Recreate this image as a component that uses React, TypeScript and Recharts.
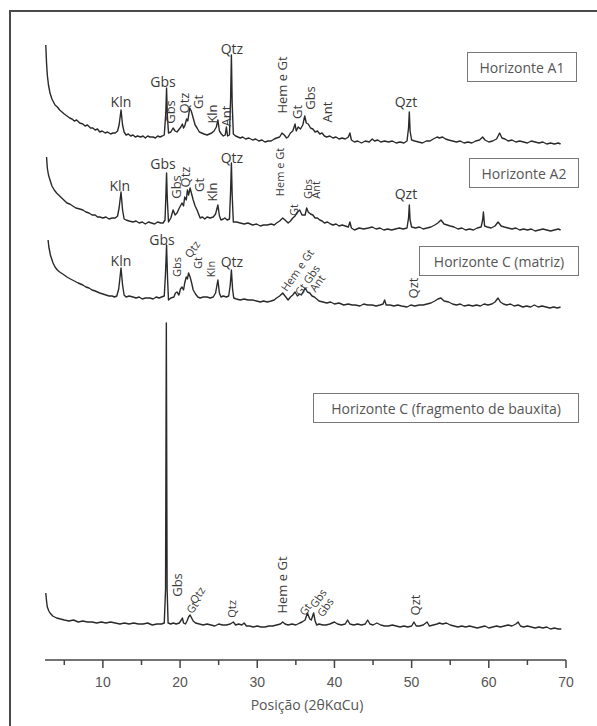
import { LineChart, Line, XAxis, YAxis, ReferenceDot } from 'recharts'

type Pt = [number, number]
// [text, 2theta, height above the trace's baseline, kind]
type Lbl = [string, number, number, string]

const A1: Pt[] = [
  [2.6, 98], [2.7, 80], [2.8, 68], [2.95, 58], [3.15, 50], [3.4, 44], [3.6, 41], [3.8, 38], [4.1, 36], [4.4, 33],
  [4.7, 31], [5.0, 29], [5.35, 27], [5.7, 25], [6.0, 24], [6.3, 22], [6.6, 23], [7.0, 20], [7.4, 19], [7.7, 17],
  [8.0, 18], [8.4, 15], [8.7, 15], [9.0, 13], [9.3, 14], [9.6, 11], [9.9, 12], [10.3, 10], [10.6, 11], [11.0, 9],
  [11.3, 10], [11.6, 10], [11.9, 12], [12.1, 18], [12.35, 33], [12.55, 18], [12.75, 11], [13.0, 8], [13.3, 9], [13.6, 7],
  [13.9, 8], [14.2, 6], [14.5, 7], [14.9, 6], [15.2, 7], [15.5, 5], [15.8, 7], [16.1, 6], [16.5, 6], [16.8, 5],
  [17.1, 7], [17.4, 6], [17.7, 7], [17.95, 8], [18.15, 30], [18.25, 55], [18.35, 28], [18.5, 10], [18.8, 11], [19.1, 15],
  [19.35, 12], [19.6, 11], [19.9, 14], [20.1, 16], [20.3, 19], [20.45, 15], [20.6, 17], [20.85, 24], [21.0, 22], [21.25, 35],
  [21.45, 32], [21.7, 25], [21.95, 18], [22.2, 15], [22.5, 11], [22.8, 10], [23.1, 9], [23.5, 8], [23.8, 9], [24.1, 10],
  [24.4, 12], [24.7, 16], [24.9, 23], [25.1, 12], [25.35, 9], [25.6, 7], [25.85, 8], [26.0, 16], [26.15, 7], [26.4, 8],
  [26.55, 45], [26.65, 88], [26.75, 40], [26.9, 9], [27.2, 7], [27.5, 6], [27.8, 5], [28.1, 6], [28.5, 4], [28.9, 5],
  [29.4, 3], [29.8, 4], [30.2, 2], [30.6, 3], [31.0, 1], [31.4, 2], [31.8, 2], [32.2, 4], [32.5, 5], [32.9, 6],
  [33.2, 10], [33.5, 8], [33.8, 5], [34.0, 6], [34.3, 10], [34.6, 12], [34.9, 19], [35.05, 12], [35.3, 16], [35.6, 14],
  [35.9, 18], [36.15, 27], [36.35, 20], [36.6, 19], [36.9, 15], [37.2, 14], [37.5, 11], [37.8, 12], [38.1, 9], [38.4, 10],
  [38.7, 7], [39.0, 6], [39.4, 7], [39.8, 5], [40.2, 6], [40.6, 4], [41.0, 5], [41.4, 4], [41.8, 6], [42.0, 10],
  [42.2, 3], [42.6, 1], [43.0, 2], [43.5, 0], [44.0, 2], [44.5, 1], [44.9, 4], [45.2, 2], [45.6, 3], [46.0, 1],
  [46.5, 2], [47.0, 1], [47.5, 2], [48.0, 0], [48.5, 1], [49.0, 0], [49.4, 2], [49.6, 15], [49.7, 31], [49.8, 12],
  [50.0, 3], [50.4, 2], [50.9, 1], [51.4, 0], [51.9, 2], [52.4, 2], [52.8, 4], [53.3, 6], [53.6, 5], [54.0, 6],
  [54.4, 4], [54.8, 3], [55.3, 2], [55.8, 1], [56.3, 2], [56.8, 0], [57.3, 1], [57.8, 0], [58.3, 2], [58.8, 3],
  [59.2, 6], [59.5, 3], [60.0, 1], [60.5, 2], [61.0, 4], [61.4, 10], [61.7, 5], [62.1, 4], [62.5, 2], [63.0, 3],
  [63.5, 1], [64.0, 2], [64.5, 1], [65.0, 0], [65.5, 2], [66.0, 1], [66.5, 0], [67.0, 1], [67.5, -1], [68.0, 0],
  [68.5, -1], [69.0, 0], [69.3, -1],
]

const A2: Pt[] = [
  [2.7, 73], [2.8, 62], [2.95, 55], [3.15, 50], [3.4, 44], [3.7, 40], [4.0, 37], [4.4, 34], [4.8, 31], [5.35, 27],
  [5.7, 26], [6.1, 24], [6.5, 22], [7.0, 21], [7.4, 20], [7.8, 18], [8.2, 17], [8.6, 15], [9.0, 15], [9.3, 13],
  [9.6, 13], [10.0, 12], [10.4, 13], [10.8, 11], [11.2, 12], [11.6, 12], [11.9, 14], [12.1, 22], [12.35, 38], [12.55, 20],
  [12.75, 11], [13.0, 10], [13.4, 9], [13.9, 8], [14.3, 9], [14.7, 7], [15.1, 8], [15.5, 6], [15.9, 8], [16.3, 7],
  [16.7, 6], [17.1, 8], [17.5, 7], [17.8, 7], [18.05, 10], [18.15, 32], [18.25, 57], [18.35, 30], [18.5, 8], [18.8, 12],
  [19.1, 20], [19.35, 15], [19.6, 17], [19.9, 22], [20.25, 27], [20.45, 24], [20.6, 33], [20.8, 30], [20.95, 40], [21.1, 35],
  [21.3, 42], [21.5, 36], [21.7, 30], [21.95, 24], [22.2, 20], [22.6, 12], [22.9, 13], [23.2, 11], [23.5, 13], [23.9, 12],
  [24.3, 13], [24.6, 16], [24.9, 25], [25.1, 14], [25.3, 10], [25.6, 11], [25.8, 12], [26.1, 10], [26.4, 11], [26.55, 40],
  [26.65, 67], [26.75, 35], [26.9, 8], [27.3, 8], [27.8, 7], [28.3, 6], [28.8, 7], [29.4, 5], [29.9, 6], [30.4, 4],
  [30.8, 5], [31.3, 5], [31.8, 6], [32.2, 5], [32.5, 7], [32.9, 9], [33.3, 12], [33.6, 10], [34.0, 7], [34.3, 9],
  [34.6, 12], [34.9, 14], [35.1, 17], [35.5, 20], [35.8, 15], [36.2, 15], [36.4, 22], [36.6, 18], [36.9, 16], [37.2, 15],
  [37.5, 12], [37.8, 12], [38.1, 10], [38.4, 9], [38.7, 7], [39.1, 8], [39.5, 6], [39.8, 5], [40.2, 6], [40.6, 4],
  [41.0, 5], [41.4, 4], [41.8, 3], [42.0, 8], [42.2, 2], [42.6, 0], [43.2, 2], [43.8, 1], [44.4, 2], [44.9, 3],
  [45.4, 1], [45.9, 2], [46.4, 0], [46.9, 1], [47.4, 0], [47.9, 1], [48.4, 2], [48.9, 1], [49.4, 2], [49.6, 12],
  [49.7, 25], [49.8, 10], [50.0, 3], [50.5, 2], [51.0, 3], [51.5, 1], [52.0, 2], [52.5, 3], [53.0, 5], [53.4, 7],
  [53.8, 10], [54.2, 6], [54.6, 5], [55.0, 4], [55.5, 3], [56.0, 1], [56.5, 2], [57.0, 0], [57.5, 1], [58.0, 0],
  [58.5, 2], [59.0, 3], [59.2, 10], [59.3, 18], [59.45, 4], [59.8, 3], [60.3, 2], [60.8, 4], [61.2, 8], [61.6, 4],
  [62.0, 3], [62.5, 2], [63.0, 1], [63.5, 2], [64.0, 0], [64.5, 1], [65.0, 0], [65.5, 1], [66.0, -1], [66.5, 0],
  [67.0, 1], [67.5, 0], [68.0, -1], [68.5, 0], [69.0, 1], [69.3, 0],
]

const CM: Pt[] = [
  [2.9, 67], [3.0, 60], [3.2, 52], [3.54, 44], [3.8, 40], [4.1, 37], [4.4, 35], [4.8, 33], [5.35, 30], [5.8, 28],
  [6.3, 26], [6.8, 24], [7.4, 22], [7.8, 20], [8.2, 19], [8.6, 17], [9.0, 16], [9.3, 15], [9.6, 14], [10.0, 13],
  [10.4, 12], [10.8, 11], [11.2, 11], [11.5, 10], [11.8, 11], [12.05, 18], [12.35, 39], [12.55, 22], [12.75, 12], [13.0, 10],
  [13.4, 11], [13.9, 10], [14.3, 9], [14.7, 10], [15.1, 8], [15.5, 9], [16.1, 9], [16.5, 8], [16.9, 10], [17.3, 9],
  [17.6, 10], [17.95, 11], [18.12, 35], [18.25, 62], [18.38, 28], [18.5, 7], [18.8, 9], [19.2, 10], [19.4, 14], [19.6, 15],
  [19.85, 12], [20.05, 18], [20.25, 20], [20.45, 17], [20.6, 24], [20.8, 30], [20.95, 28], [21.1, 34], [21.3, 30], [21.5, 24],
  [21.7, 17], [22.0, 13], [22.3, 10], [22.6, 9], [23.0, 10], [23.5, 10], [23.9, 9], [24.3, 10], [24.6, 14], [24.9, 27],
  [25.1, 14], [25.3, 10], [25.6, 11], [26.0, 10], [26.3, 11], [26.5, 22], [26.65, 37], [26.8, 18], [26.95, 9], [27.3, 8],
  [27.8, 7], [28.3, 8], [28.8, 7], [29.4, 7], [29.9, 6], [30.4, 5], [30.8, 6], [31.3, 5], [31.8, 6], [32.2, 7],
  [32.5, 9], [32.9, 11], [33.3, 14], [33.6, 11], [34.0, 7], [34.3, 10], [34.6, 12], [34.9, 15], [35.2, 11], [35.5, 13],
  [35.7, 12], [36.0, 16], [36.2, 19], [36.5, 15], [36.8, 14], [37.1, 11], [37.4, 10], [37.7, 8], [38.0, 6], [38.5, 5],
  [39.0, 4], [39.5, 5], [40.0, 3], [40.6, 4], [41.2, 2], [41.8, 3], [42.3, 2], [42.7, 2], [43.3, 1], [43.8, 3],
  [44.3, 2], [44.9, 2], [45.4, 1], [45.9, 2], [46.3, 3], [46.5, 7], [46.7, 2], [47.2, 2], [47.7, 1], [48.2, 2],
  [48.7, 1], [49.4, 0], [49.9, 2], [50.4, 1], [51.0, 2], [51.5, 2], [52.0, 3], [52.5, 4], [53.0, 6], [53.4, 8],
  [53.8, 9], [54.2, 6], [54.8, 5], [55.3, 3], [55.8, 2], [56.3, 3], [56.8, 1], [57.4, 2], [57.9, 1], [58.4, 2],
  [58.9, 1], [59.4, 3], [59.9, 2], [60.4, 3], [60.8, 5], [61.2, 9], [61.5, 5], [61.9, 3], [62.3, 2], [62.8, 3],
  [63.3, 1], [63.8, 2], [64.4, 0], [64.9, 1], [65.4, 0], [65.9, 2], [66.4, 0], [66.9, 1], [67.4, 0], [67.9, -1],
  [68.4, 0], [68.9, -1], [69.3, 0],
]

const BX: Pt[] = [
  [2.6, 36], [2.7, 28], [2.8, 22], [3.0, 18], [3.15, 16], [3.5, 13], [4.0, 11], [4.5, 10], [5.0, 9], [5.6, 8],
  [6.2, 9], [6.8, 7], [7.4, 8], [8.0, 7], [8.6, 7], [9.2, 6], [9.8, 7], [10.4, 6], [11.0, 7], [11.6, 6],
  [12.2, 5], [12.8, 6], [13.4, 5], [14.0, 6], [14.6, 5], [15.2, 5], [15.8, 6], [16.4, 4], [17.0, 5], [17.6, 5],
  [17.95, 6], [18.12, 40], [18.22, 306], [18.32, 40], [18.45, 6], [18.8, 5], [19.1, 6], [19.5, 5], [19.9, 6], [20.15, 9],
  [20.3, 11], [20.45, 6], [20.7, 5], [20.9, 8], [21.1, 12], [21.3, 14], [21.5, 11], [21.7, 8], [22.0, 6], [22.5, 5],
  [23.0, 4], [23.5, 5], [24.0, 4], [24.5, 3], [25.0, 5], [25.5, 4], [26.0, 4], [26.5, 5], [26.9, 7], [27.2, 4],
  [27.6, 5], [28.0, 4], [28.3, 6], [28.6, 3], [29.0, 3], [29.5, 2], [30.0, 3], [30.5, 2], [31.0, 2], [31.5, 3],
  [32.0, 3], [32.5, 4], [33.0, 5], [33.3, 7], [33.6, 5], [34.0, 4], [34.5, 5], [35.0, 4], [35.5, 6], [35.8, 7],
  [36.2, 9], [36.5, 16], [36.8, 10], [37.0, 9], [37.3, 16], [37.5, 8], [37.7, 4], [38.0, 5], [38.5, 4], [38.9, 4],
  [39.4, 5], [40.0, 7], [40.4, 5], [40.9, 4], [41.4, 5], [41.7, 9], [42.0, 5], [42.5, 4], [43.0, 5], [43.5, 4],
  [44.0, 5], [44.3, 9], [44.6, 5], [45.0, 4], [45.5, 6], [46.0, 4], [46.5, 3], [47.0, 3], [47.5, 4], [48.0, 3],
  [48.5, 2], [49.0, 3], [49.5, 2], [50.0, 3], [50.3, 7], [50.6, 3], [51.0, 3], [51.5, 4], [52.0, 7], [52.3, 3],
  [52.8, 4], [53.3, 5], [53.6, 6], [54.0, 5], [54.5, 6], [55.0, 4], [55.5, 3], [56.0, 2], [56.5, 3], [57.0, 2],
  [57.5, 3], [58.0, 2], [58.5, 1], [59.0, 2], [59.5, 3], [60.0, 1], [60.5, 2], [61.0, 3], [61.5, 2], [62.0, 3],
  [62.5, 4], [63.0, 3], [63.5, 5], [63.8, 7], [64.1, 3], [64.5, 2], [65.0, 3], [65.5, 2], [66.0, 1], [66.5, 2],
  [67.0, 1], [67.5, 2], [68.0, 0], [68.5, 1], [69.0, 0], [69.4, 0],
]

const A1_LABELS: Lbl[] = [
  ['Kln', 12.34, 42, 'h'], ['Gbs', 17.78, 62, 'h'], ['Gbs', 18.69, 31, 'v'], ['Qtz', 20.5, 40, 'v'],
  ['Gt', 22.32, 41, 'v'], ['Kln', 24.13, 29, 'v'], ['Ant', 25.95, 27, 'v'], ['Qtz', 26.72, 95, 'h'],
  ['Hem e Gt', 33.2, 58, 'v'], ['Gt', 35.14, 31, 'v'], ['Gbs', 36.83, 45, 'v'], ['Ant', 39.03, 31, 'v'],
  ['Qzt', 49.26, 42, 'h'],
]
const A2_LABELS: Lbl[] = [
  ['Kln', 12.2, 45, 'h'], ['Gbs', 17.78, 67, 'h'], ['Gbs', 19.47, 43, 'v'], ['Qtz', 20.63, 53, 'v'],
  ['Gt', 22.45, 45, 'v'], ['Kln', 24.13, 38, 'v'], ['Qtz', 26.72, 73, 'h'], ['Hem e Gt', 32.94, 58, 'vs'],
  ['Gt', 34.75, 20, 'vs'], ['Gbs', 36.57, 41, 'vs'], ['Ant', 37.6, 40, 'vs'], ['Qzt', 49.26, 37, 'h'],
]
const CM_LABELS: Lbl[] = [
  ['Kln', 12.34, 47, 'h'], ['Gbs', 17.66, 68, 'h'], ['Gbs', 19.6, 40, 'vs'], ['Qtz', 21.54, 58, 'd'],
  ['Gt', 22.32, 44, 'vs'], ['Kln', 24.0, 38, 'vs'], ['Qtz', 26.72, 46, 'h'], ['Hem e Gt', 35.14, 37, 'd'],
  ['Gt Gbs', 36.44, 27, 'd'], ['Ant', 37.73, 24, 'd'], ['Qzt', 50.17, 19, 'v'],
]
const BX_LABELS: Lbl[] = [
  ['Gbs', 19.6, 44, 'v'], ['Gt', 21.54, 22, 'd'], ['Qtz', 22.19, 34, 'd'], ['Qtz', 26.72, 20, 'vs'],
  ['Hem e Gt', 33.2, 44, 'v'], ['Gt', 36.18, 20, 'd'], ['Gbs', 37.86, 31, 'd'], ['Gbs', 38.77, 22, 'd'],
  ['Qzt', 50.43, 24, 'v'],
]

const TICKS = [5, 10, 15, 20, 25, 30, 35, 40, 45, 50, 55, 60, 65, 70]

const TRACES = [
  { name: 'Horizonte A1', pts: A1, labels: A1_LABELS, base: 517, box: { left: 467, top: 52, width: 110 } },
  { name: 'Horizonte A2', pts: A2, labels: A2_LABELS, base: 430, box: { left: 469, top: 158, width: 110 } },
  { name: 'Horizonte C (matriz)', pts: CM, labels: CM_LABELS, base: 353, box: { left: 419, top: 246, width: 160 } },
  { name: 'Horizonte C (fragmento de bauxita)', pts: BX, labels: BX_LABELS, base: 31, box: { left: 313, top: 393, width: 266 } },
]

const KIND: Record<string, { angle: number; size: number }> = {
  h: { angle: 0, size: 14 },
  v: { angle: -90, size: 13 },
  vs: { angle: -90, size: 11 },
  d: { angle: -55, size: 11 },
}

const FONT = '"Open Sans", sans-serif'
const INK = '#3a3a3a'

function AxisTick(props: any) {
  const { x, y, payload } = props
  const major = payload.value % 10 === 0
  return (
    <g>
      <line x1={x} x2={x} y1={y} y2={y + (major ? 8 : 5)} stroke="#444" strokeWidth={1.5} />
      {major && (
        <text x={x} y={y + 27} textAnchor="middle" fontSize={14} fill="#555" fontFamily='"Liberation Sans", Arial, sans-serif'>
          {payload.value}
        </text>
      )}
    </g>
  )
}

export default function App() {
  return (
    <div style={{ position: 'absolute', left: 0, top: 0, width: 597, height: 726, overflow: 'hidden', background: '#fff' }}>
      <div style={{ position: 'absolute', left: 9, top: 10, width: 600, height: 720, borderTop: '2px solid #4a4a4a', borderLeft: '2px solid #4a4a4a' }} />
      <LineChart width={597} height={726} margin={{ top: 30, right: 31, bottom: 0, left: 45 }} style={{ position: 'absolute', left: 0, top: 0 }}>
        <XAxis
          type="number"
          dataKey="t"
          domain={[2.5, 70]}
          ticks={TICKS}
          interval={0}
          height={66}
          allowDataOverflow
          tickSize={0}
          tickMargin={0}
          tickLine={false}
          axisLine={{ stroke: '#444', strokeWidth: 1.5 }}
          tick={<AxisTick />}
        />
        <YAxis type="number" domain={[0, 630]} hide allowDataOverflow />
        {TRACES.map(tr => (
          <Line
            key={tr.name}
            data={tr.pts.map(([t, h]) => ({ t, v: tr.base + h }))}
            dataKey="v"
            type="linear"
            stroke="#2a2a2a"
            strokeWidth={1.4}
            strokeLinejoin="round"
            dot={false}
            isAnimationActive={false}
          />
        ))}
        {TRACES.flatMap(tr =>
          tr.labels.map(([text, t, h, kind], i) => {
            const k = KIND[kind]
            return (
              <ReferenceDot
                key={tr.name + i}
                x={t}
                y={tr.base + h}
                r={0}
                shape={(p: any) => (
                  <text
                    x={p.cx}
                    y={p.cy}
                    transform={k.angle ? `rotate(${k.angle} ${p.cx} ${p.cy})` : undefined}
                    textAnchor="middle"
                    dominantBaseline="central"
                    fontSize={k.size}
                    fill={INK}
                    fontFamily={FONT}
                  >
                    {text}
                  </text>
                )}
              />
            )
          })
        )}
      </LineChart>
      <div style={{ position: 'absolute', left: 0, top: 695, width: 614, textAlign: 'center', fontFamily: FONT, fontSize: 14, color: '#555' }}>
        Posição (2θKαCu)
      </div>
      {TRACES.map(tr => (
        <div
          key={tr.name}
          style={{
            position: 'absolute',
            left: tr.box.left,
            top: tr.box.top,
            width: tr.box.width,
            height: 30,
            boxSizing: 'border-box',
            border: '1.5px solid #777',
            background: '#fff',
            display: 'flex',
            alignItems: 'center',
            justifyContent: 'center',
            fontFamily: FONT,
            fontSize: 14,
            color: '#555',
            whiteSpace: 'nowrap',
          }}
        >
          {tr.name}
        </div>
      ))}
    </div>
  )
}
